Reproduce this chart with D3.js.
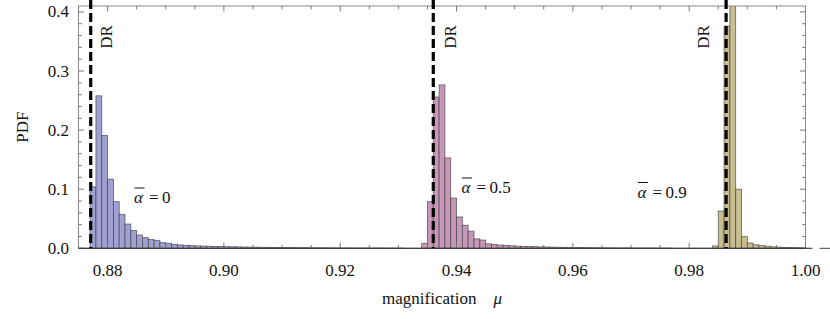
<!DOCTYPE html>
<html>
<head>
<meta charset="utf-8">
<script src="https://cdn.jsdelivr.net/npm/d3@7"></script>
<style>
  body { margin: 0; background: #fff; }
  svg { display: block; }
  text { font-family: "Liberation Serif", "DejaVu Serif", serif; fill: #111; }
</style>
</head>
<body>
<div id="chart"></div>
<script>
// bin width of every histogram
const bin_width = 0.001;

// alpha = 0
const a0_start = 0.877;
const a0_values = [0.104, 0.258, 0.191, 0.117, 0.079, 0.0575, 0.041, 0.030, 0.0225, 0.018,
  0.015, 0.0135, 0.0095, 0.0085, 0.0068, 0.0056, 0.005, 0.0045, 0.004, 0.0038,
  0.0035, 0.0032, 0.003, 0.0028, 0.0026, 0.0024, 0.0022, 0.002, 0.0019, 0.0017,
  0.0016, 0.0015, 0.0014, 0.0013, 0.0012, 0.0011, 0.001, 0.001, 0.0009, 0.0008,
  0.0008, 0.0007, 0.0007, 0.0006, 0.0006, 0.0005, 0.0005, 0.0005, 0.0004, 0.0004,
  0.0004, 0.0003, 0.0003, 0.0003];

// alpha = 0.5
const a5_start = 0.934;
const a5_values = [0.0085, 0.079, 0.256, 0.2765, 0.153, 0.085, 0.053, 0.039, 0.029, 0.016,
  0.014, 0.0075, 0.0065, 0.0055, 0.005, 0.0042, 0.0037, 0.0033, 0.003, 0.0027,
  0.0024, 0.0022, 0.002, 0.0018, 0.0016, 0.0014, 0.0013, 0.0012, 0.0011, 0.001,
  0.0009, 0.0008, 0.0008, 0.0007, 0.0006, 0.0006, 0.0005, 0.0005, 0.0004, 0.0004,
  0.0004, 0.0003, 0.0003];

// alpha = 0.9
const a9_start = 0.984;
const a9_values = [0.004, 0.063, 0.376, 0.445, 0.100, 0.0197, 0.009, 0.006, 0.0045, 0.0035,
  0.0025, 0.002, 0.0015, 0.0012, 0.001, 0.0008];

const series_labels = ["0", "0.5", "0.9"];
const series_colors = ["#a0a0d2", "#c997b9", "#c9be90"];
// Dyer-Roeder magnification for each alpha
const dr_values = [0.8771, 0.9360, 0.98635];

const x_ticks = [0.88, 0.90, 0.92, 0.94, 0.96, 0.98, 1.00];
const y_ticks = [0.0, 0.1, 0.2, 0.3, 0.4];

const W = 830, H = 319;
const plot = {left: 78.5, right: 805.5, top: 6, bottom: 248.3};

const svg = d3.select("#chart").append("svg")
  .attr("width", W).attr("height", H);

const x = d3.scaleLinear().domain([0.875, 1.0]).range([plot.left, plot.right]);
const y = d3.scaleLinear().domain([0, 0.41]).range([plot.bottom, plot.top]);

svg.append("clipPath").attr("id", "clip")
  .append("rect")
    .attr("x", plot.left).attr("y", plot.top)
    .attr("width", plot.right - plot.left)
    .attr("height", plot.bottom - plot.top);

const series = [
  [a0_start, a0_values],
  [a5_start, a5_values],
  [a9_start, a9_values]
].map(([start, vals], i) => vals.map((v, k) => ({
  x0: start + k * bin_width,
  x1: start + (k + 1) * bin_width,
  v: v,
  i: i
})));

const bars_g = svg.append("g").attr("clip-path", "url(#clip)");
series.forEach((bins, i) => {
  bars_g.append("g")
    .selectAll("rect")
    .data(bins)
    .join("rect")
      .attr("x", d => x(d.x0))
      .attr("width", d => x(d.x1) - x(d.x0))
      .attr("y", d => y(d.v))
      .attr("height", d => y(0) - y(d.v))
      .attr("fill", series_colors[i])
      .attr("stroke", "#3a3a3a")
      .attr("stroke-opacity", 0.75)
      .attr("stroke-width", 0.8);
});

// frame
svg.append("rect")
  .attr("x", plot.left).attr("y", plot.top)
  .attr("width", plot.right - plot.left)
  .attr("height", plot.bottom - plot.top)
  .attr("fill", "none")
  .attr("stroke", "#8a8a8a")
  .attr("stroke-width", 1);

// x ticks: major + minor on bottom (axis) and top frame
const x_minor = d3.range(0, 26).map(k => 0.875 + k * 0.005)
  .filter(v => !x_ticks.some(t => Math.abs(t - v) < 1e-9));
const y_minor = d3.range(0, 21).map(k => k * 0.02)
  .filter(v => !y_ticks.some(t => Math.abs(t - v) < 1e-9));

const tick_g = svg.append("g").attr("stroke", "#777").attr("stroke-width", 1);
const tick = (x1, y1, x2, y2) => tick_g.append("line")
  .attr("x1", x1).attr("y1", y1).attr("x2", x2).attr("y2", y2);

x_ticks.forEach(t => {
  tick(x(t), plot.bottom, x(t), plot.bottom - 5.5);
  tick(x(t), plot.top, x(t), plot.top + 5.5);
});
x_minor.forEach(t => {
  tick(x(t), plot.bottom, x(t), plot.bottom - 3.3);
  tick(x(t), plot.top, x(t), plot.top + 3.3);
});
y_ticks.forEach(t => {
  tick(plot.left, y(t), plot.left + 5.5, y(t));
  tick(plot.right, y(t), plot.right - 5.5, y(t));
});
y_minor.forEach(t => {
  tick(plot.left, y(t), plot.left + 3.3, y(t));
  tick(plot.right, y(t), plot.right - 3.3, y(t));
});

// axis line at y = 0, running a little past the frame
svg.append("line")
  .attr("x1", plot.left).attr("x2", plot.right + 7)
  .attr("y1", y(0)).attr("y2", y(0))
  .attr("stroke", "#222").attr("stroke-width", 1.1);
svg.append("line")
  .attr("x1", plot.right + 14).attr("x2", W)
  .attr("y1", y(0)).attr("y2", y(0))
  .attr("stroke", "#444").attr("stroke-width", 1);

// tick labels
svg.append("g").selectAll("text")
  .data(x_ticks)
  .join("text")
    .attr("x", d => x(d))
    .attr("y", 276)
    .attr("text-anchor", "middle")
    .attr("font-size", 17)
    .text(d3.format(".2f"));

svg.append("g").selectAll("text")
  .data(y_ticks)
  .join("text")
    .attr("x", plot.left - 9.5)
    .attr("y", d => y(d) + 5.5)
    .attr("text-anchor", "end")
    .attr("font-size", 17)
    .text(d3.format(".1f"));

// axis labels
const xl = svg.append("text")
  .attr("x", (plot.left + plot.right) / 2)
  .attr("y", 304)
  .attr("text-anchor", "middle")
  .attr("font-size", 17);
xl.append("tspan").text("magnification\u2002\u2002");
xl.append("tspan").attr("font-style", "italic").text("\u03bc");

svg.append("text")
  .attr("transform", `translate(28,${(plot.top + plot.bottom) / 2}) rotate(-90)`)
  .attr("text-anchor", "middle")
  .attr("font-size", 17)
  .text("PDF");

// Dyer-Roeder dashed lines
const dr_offsets = [16, 17.5, -22];
dr_values.forEach((v, i) => {
  svg.append("line")
    .attr("x1", x(v)).attr("x2", x(v))
    .attr("y1", 0).attr("y2", y(0))
    .attr("stroke", "#000")
    .attr("stroke-width", 3.2)
    .attr("stroke-dasharray", "9,4");
  svg.append("text")
    .attr("transform", `translate(${x(v) + dr_offsets[i] + 5},37) rotate(-90)`)
    .attr("text-anchor", "middle")
    .attr("font-size", 17)
    .text("DR");
});

// alpha labels
const alpha_pos = [[134, 203], [461.5, 193], [637.5, 197.5]];
series_labels.forEach((lab, i) => {
  const [px, py] = alpha_pos[i];
  const a = svg.append("text")
    .attr("x", px).attr("y", py)
    .attr("font-size", 17)
    .attr("font-style", "italic")
    .text("\u03b1");
  const bb = a.node().getBBox();
  svg.append("line")
    .attr("x1", bb.x + 0.5).attr("x2", bb.x + bb.width + 0.5)
    .attr("y1", py - 15).attr("y2", py - 15)
    .attr("stroke", "#111").attr("stroke-width", 1);
  svg.append("text")
    .attr("x", bb.x + bb.width + 5).attr("y", py)
    .attr("font-size", 17)
    .text("=\u2009" + lab);
});
</script>
</body>
</html>
